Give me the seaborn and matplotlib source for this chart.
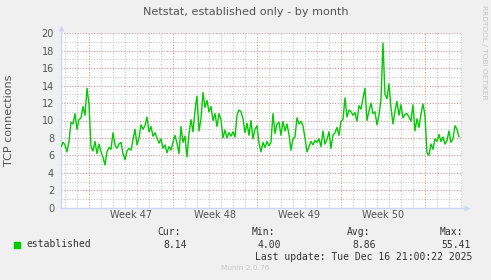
import numpy as np
import pandas as pd
import matplotlib
matplotlib.use("Agg")
import matplotlib.pyplot as plt
import seaborn as sns

# ---------------- data ----------------
title = "Netstat, established only - by month"
y_label = "TCP connections"
week_labels = ["Week 47", "Week 48", "Week 49", "Week 50"]
week_starts = [2.36, 9.36, 16.36, 23.36, 30.36]   # days since window start
window_days = 33.42
y_ticks = [0, 2, 4, 6, 8, 10, 12, 14, 16, 18, 20]
sample_hours = 4

established = [
    7.0, 7.5, 7.2, 6.4, 7.6, 9.8, 9.6, 10.8, 9.0, 10.1,
    10.3, 11.6, 10.6, 13.7, 11.8, 7.0, 6.5, 7.6, 6.2, 7.3,
    6.4, 5.8, 4.9, 6.4, 6.9, 6.7, 8.6, 7.2, 6.8, 7.3,
    7.5, 6.2, 5.5, 6.5, 6.8, 6.6, 7.8, 9.0, 7.2, 8.0,
    9.5, 9.0, 9.4, 10.4, 8.7, 9.3, 8.2, 8.6, 8.0, 7.4,
    7.9, 6.8, 7.2, 6.3, 7.0, 6.6, 7.5, 8.3, 7.4, 6.2,
    9.3, 7.5, 8.2, 5.8, 8.5, 10.1, 8.7, 11.1, 12.8, 8.8,
    10.2, 13.2, 11.5, 12.3, 11.0, 11.6, 10.0, 10.8, 9.3, 10.8,
    10.1, 8.0, 8.9, 8.0, 8.6, 8.2, 8.7, 8.1, 10.6, 11.2,
    11.0, 10.2, 8.6, 9.7, 8.3, 10.0, 7.9, 9.0, 9.4, 7.4,
    6.4, 7.5, 6.9, 7.6, 7.1, 7.5, 10.8, 8.5, 9.6, 9.8,
    8.3, 9.9, 8.8, 9.6, 8.4, 6.6, 7.9, 8.1, 10.3, 9.6,
    9.9, 9.4, 8.0, 6.4, 7.0, 7.6, 7.2, 7.7, 7.5, 7.9,
    7.0, 8.8, 7.3, 7.8, 8.7, 6.8, 8.3, 8.6, 9.2, 8.3,
    9.9, 10.1, 12.6, 10.4, 11.2, 11.0, 10.6, 10.9, 9.9, 11.7,
    11.3, 12.5, 13.7, 10.0, 11.1, 12.0, 10.8, 11.0, 9.5, 10.6,
    12.4, 18.9, 13.0, 12.5, 14.2, 11.5, 9.6, 11.1, 12.2, 10.6,
    11.8, 10.3, 10.7, 10.8, 10.4, 9.9, 11.8, 8.8, 10.2, 9.2,
    10.7, 11.9, 10.6, 6.3, 6.0, 7.3, 6.7, 7.9, 7.6, 8.4,
    7.6, 8.1, 7.3, 7.7, 8.8, 7.5, 7.9, 9.4, 9.0, 8.1,
]

legend_name = "established"
stat_headers = ["Cur:", "Min:", "Avg:", "Max:"]
stat_values = ["8.14", "4.00", "8.86", "55.41"]
last_update = "Last update: Tue Dec 16 21:00:22 2025"
footer = "Munin 2.0.76"
side_text = "RRDTOOL / TOBI OETIKER"

df = pd.DataFrame({
    "day": np.arange(len(established)) * sample_hours / 24.0,
    "value": established,
})

# ---------------- style ----------------
W, H = 491, 280
bg = "#f0f0f0"
grid_minor = "#c4c4c4"
grid_major = "#e08a8a"
axis_col = "#cfd6f8"
text_col = "#555555"
line_col = "#00cc00"

sns.set_style("white")
plt.rcParams["font.family"] = ["DejaVu Sans"]

fig = plt.figure(figsize=(W / 100, H / 100), dpi=100, facecolor=bg)
ax_left, ax_right, ax_top, ax_bot = 61, 462, 33.3, 207.7
ax = fig.add_axes([ax_left / W, 1 - ax_bot / H, (ax_right - ax_left) / W, (ax_bot - ax_top) / H])
ax.set_facecolor("white")

# grid
dots = (0, (1, 1.6))
for v in range(1, 21):
    col = grid_major if v % 2 == 0 else grid_minor
    ax.axhline(v, color=col, lw=0.75, ls=dots, zorder=1)
d = week_starts[0] - 3
while d <= window_days:
    if d > 0.05:
        is_major = any(abs(d - w) < 1e-6 for w in week_starts)
        ax.axvline(d, color=grid_major if is_major else grid_minor, lw=0.75, ls=dots, zorder=1)
    d += 1

sns.lineplot(data=df, x="day", y="value", ax=ax, color=line_col, linewidth=1.0, zorder=3)

ax.set_xlim(0, window_days)
ax.set_ylim(0, 20)
ax.set_yticks(y_ticks)
ax.set_yticklabels([str(t) for t in y_ticks])
centers = [w + 3.5 for w in week_starts[:4]]
ax.set_xticks(centers)
ax.set_xticklabels(week_labels)
ax.tick_params(axis="both", length=0, labelsize=7, colors=text_col)
ax.tick_params(axis="y", pad=5)
ax.tick_params(axis="x", pad=2)
ax.set_xlabel("")
ax.set_ylabel("")

for s in ["top", "right"]:
    ax.spines[s].set_visible(False)
for s in ["left", "bottom"]:
    ax.spines[s].set_color(axis_col)
    ax.spines[s].set_linewidth(1.0)

# axis arrows
ax.plot([0, 0], [20, 20.6], color=axis_col, lw=1.0, clip_on=False, zorder=4)
ax.plot([0], [20.65], marker="^", ms=4, color=axis_col, clip_on=False, zorder=4, mec="none")
ax.plot([window_days, window_days + 0.35], [0, 0], color=axis_col, lw=1.0, clip_on=False, zorder=4)
ax.plot([window_days + 0.38], [0], marker=">", ms=4, color=axis_col, clip_on=False, zorder=4, mec="none")

def ft(x, y, s, **kw):
    fig.text(x / W, 1 - y / H, s, **kw)

ft(245.5, 12, title, ha="center", va="center", fontsize=8.1, color="#555555")
ft(9, 120, y_label, ha="center", va="center", rotation=90, fontsize=8, color="#555555")
ft(484, 5, side_text, ha="center", va="top", rotation=270, fontsize=5.3, color="#c4c4c4")

mono = dict(family="DejaVu Sans Mono", fontsize=7, color="#333333", va="center")
fig.patches.append(plt.Rectangle((14 / W, 1 - 247.5 / H), 5.5 / W, 5.5 / H,
                                 transform=fig.transFigure, color=line_col, figure=fig))
ft(26, 244, legend_name, ha="left", **mono)
hx = [157, 252, 347, 440]
vx = [163, 258, 352, 441]
for x, h in zip(hx, stat_headers):
    ft(x, 232, h, ha="left", **mono)
for x, v in zip(vx, stat_values):
    ft(x, 244.5, v, ha="left", **mono)
ft(255, 257, last_update, ha="left", **mono)
ft(245, 268.5, footer, ha="center", va="center", fontsize=5.3, color="#c8c8c8")

fig.savefig("out.png", dpi=100, facecolor=bg)
